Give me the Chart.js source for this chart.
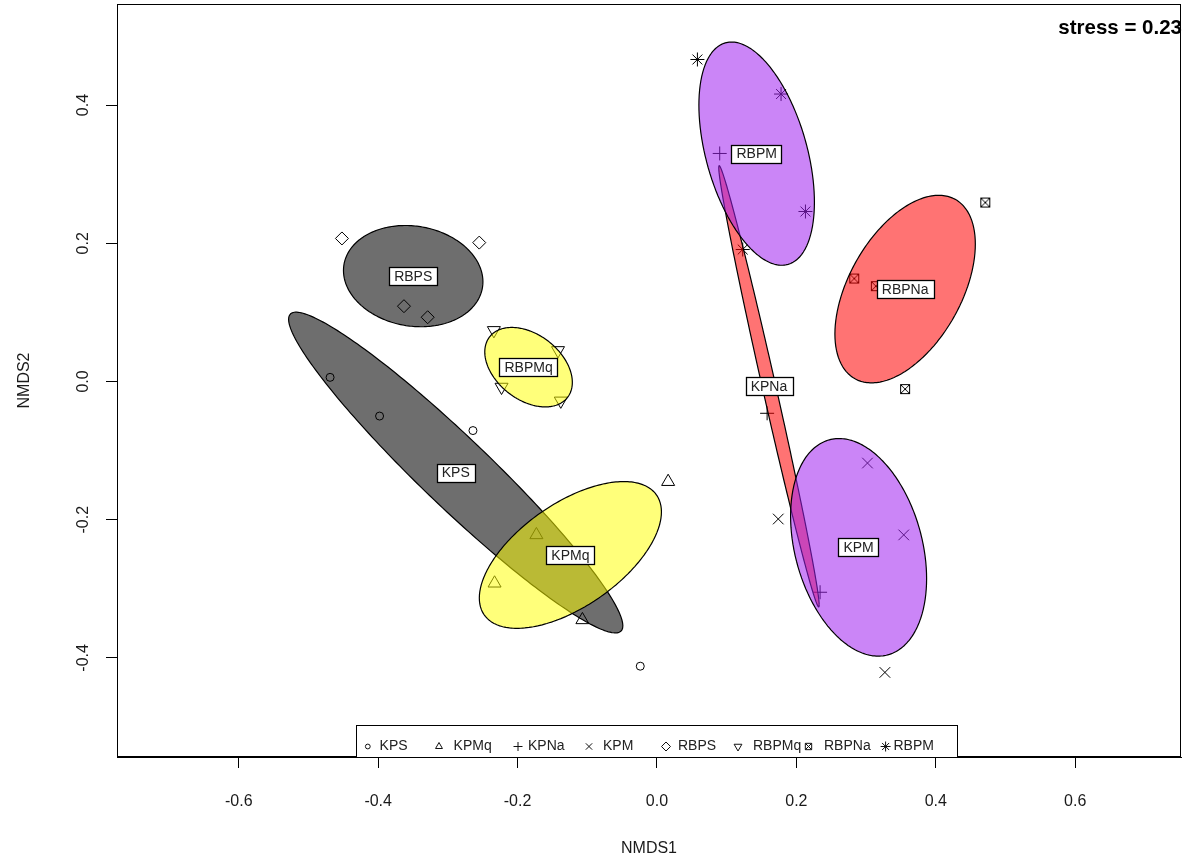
<!DOCTYPE html>
<html>
<head>
<meta charset="utf-8">
<script src="https://cdn.jsdelivr.net/npm/chart.js@4/dist/chart.umd.min.js"></script>
<style>
html,body{margin:0;padding:0;background:#ffffff;}
canvas{display:block;}
</style>
</head>
<body>
<canvas id="c" width="1194" height="867" style="width:1194px;height:867px"></canvas>
<script>
// ---------------- data (NMDS scores) ----------------
const groups = ['KPS', 'KPMq', 'KPNa', 'KPM', 'RBPS', 'RBPMq', 'RBPNa', 'RBPM'];

const KPS_x   = [-0.469, -0.398, -0.264, -0.024];
const KPS_y   = [ 0.006, -0.050, -0.071, -0.412];
const KPMq_x  = [ 0.016, -0.173, -0.233, -0.107];
const KPMq_y  = [-0.145, -0.222, -0.292, -0.345];
const KPNa_x  = [ 0.090,  0.158,  0.234];
const KPNa_y  = [ 0.330, -0.046, -0.305];
const KPM_x   = [ 0.302,  0.354,  0.174,  0.327];
const KPM_y   = [-0.118, -0.222, -0.199, -0.421];
const RBPS_x  = [-0.452, -0.255, -0.363, -0.329];
const RBPS_y  = [ 0.207,  0.201,  0.109,  0.093];
const RBPMq_x = [-0.234, -0.142, -0.223, -0.138];
const RBPMq_y = [ 0.074,  0.045, -0.008, -0.028];
const RBPNa_x = [ 0.471,  0.283,  0.314,  0.356];
const RBPNa_y = [ 0.259,  0.149,  0.138, -0.011];
const RBPM_x  = [ 0.058,  0.178,  0.213,  0.123];
const RBPM_y  = [ 0.466,  0.416,  0.246,  0.191];

// ellipse size factor (centroid confidence ellipse scale) per group
const ellipseScale = [1.224, 1.224, 1.0, 1.224, 1.224, 1.224, 1.224, 1.224];

const xTicks = [-0.6, -0.4, -0.2, 0.0, 0.2, 0.4, 0.6];
const yTicks = [-0.4, -0.2, 0.0, 0.2, 0.4];
const xTitle = 'NMDS1';
const yTitle = 'NMDS2';
const stressText = 'stress = 0.23';

// ---------------- styles ----------------
const groupX = [KPS_x, KPMq_x, KPNa_x, KPM_x, RBPS_x, RBPMq_x, RBPNa_x, RBPM_x];
const groupY = [KPS_y, KPMq_y, KPNa_y, KPM_y, RBPS_y, RBPMq_y, RBPNa_y, RBPM_y];
const fillColors = [
  'rgba(0,0,0,0.57)', 'rgba(255,255,0,0.52)', 'rgba(255,0,0,0.55)', 'rgba(160,32,240,0.55)',
  'rgba(0,0,0,0.57)', 'rgba(255,255,0,0.52)', 'rgba(255,0,0,0.55)', 'rgba(160,32,240,0.55)'
];
const FONT = '"Liberation Sans", Arial, "DejaVu Sans", sans-serif';

// square with a cross (R pch 7)
function boxCross(size) {
  const cv = document.createElement('canvas');
  cv.width = size; cv.height = size;
  const g = cv.getContext('2d');
  g.strokeStyle = '#000'; g.lineWidth = 1;
  g.strokeRect(1.5, 1.5, size - 3, size - 3);
  g.beginPath();
  g.moveTo(1.5, 1.5); g.lineTo(size - 1.5, size - 1.5);
  g.moveTo(size - 1.5, 1.5); g.lineTo(1.5, size - 1.5);
  g.stroke();
  return cv;
}
const pointStyles = ['circle', 'triangle', 'cross', 'crossRot', 'rectRot', 'triangle', boxCross(12), 'star'];
const pointRot    = [0, 0, 0, 0, 0, 180, 0, 0];
const pointRad    = [4, 7.5, 7, 7.5, 6.5, 7.5, 6, 7];

// ---------------- helpers ----------------
const mean = a => a.reduce((s, v) => s + v, 0) / a.length;

function ellipse(xs, ys, scale) {
  const n = xs.length, mx = mean(xs), my = mean(ys);
  let sxx = 0, syy = 0, sxy = 0;
  for (let i = 0; i < n; i++) {
    const dx = xs[i] - mx, dy = ys[i] - my;
    sxx += dx * dx; syy += dy * dy; sxy += dx * dy;
  }
  sxx /= (n - 1); syy /= (n - 1); sxy /= (n - 1);
  const a = Math.sqrt(sxx), b = sxy / a, c = Math.sqrt(Math.max(syy - b * b, 0));
  const pts = [];
  const N = 120;
  for (let k = 0; k <= N; k++) {
    const t = 2 * Math.PI * k / N, u = Math.cos(t), v = Math.sin(t);
    pts.push({x: mx + scale * a * u, y: my + scale * (b * u + c * v)});
  }
  return pts;
}

const datasets = [];
groups.forEach((g, i) => {
  datasets.push({
    label: g,
    data: groupX[i].map((x, j) => ({x: x, y: groupY[i][j]})),
    pointStyle: pointStyles[i],
    pointRotation: pointRot[i],
    pointRadius: pointRad[i],
    pointBorderWidth: 1,
    pointBorderColor: '#000',
    pointBackgroundColor: 'rgba(0,0,0,0)',
    showLine: false,
    order: 100 + i
  });
});
groups.forEach((g, i) => {
  datasets.push({
    label: g + ' ellipse',
    data: ellipse(groupX[i], groupY[i], ellipseScale[i]),
    showLine: true,
    fill: 'shape',
    backgroundColor: fillColors[i],
    borderColor: '#000',
    borderWidth: 1.2,
    pointRadius: 0,
    tension: 0.001,
    order: 50 - i
  });
});

// ---------------- plugins ----------------
function drawSym(ctx, k, x, y, s) {
  ctx.beginPath();
  const d = s * 0.7071;
  switch (k) {
    case 0: ctx.arc(x, y, s, 0, 2 * Math.PI); break;
    case 1: ctx.moveTo(x, y - s); ctx.lineTo(x + 0.866 * s, y + 0.5 * s); ctx.lineTo(x - 0.866 * s, y + 0.5 * s); ctx.closePath(); break;
    case 2: ctx.moveTo(x - s, y); ctx.lineTo(x + s, y); ctx.moveTo(x, y - s); ctx.lineTo(x, y + s); break;
    case 3: ctx.moveTo(x - d, y - d); ctx.lineTo(x + d, y + d); ctx.moveTo(x + d, y - d); ctx.lineTo(x - d, y + d); break;
    case 4: ctx.moveTo(x, y - s); ctx.lineTo(x + s, y); ctx.lineTo(x, y + s); ctx.lineTo(x - s, y); ctx.closePath(); break;
    case 5: ctx.moveTo(x, y + s); ctx.lineTo(x + 0.866 * s, y - 0.5 * s); ctx.lineTo(x - 0.866 * s, y - 0.5 * s); ctx.closePath(); break;
    case 6:
      ctx.rect(x - d, y - d, 2 * d, 2 * d);
      ctx.moveTo(x - d, y - d); ctx.lineTo(x + d, y + d); ctx.moveTo(x + d, y - d); ctx.lineTo(x - d, y + d); break;
    case 7:
      ctx.moveTo(x - s, y); ctx.lineTo(x + s, y); ctx.moveTo(x, y - s); ctx.lineTo(x, y + s);
      ctx.moveTo(x - d, y - d); ctx.lineTo(x + d, y + d); ctx.moveTo(x + d, y - d); ctx.lineTo(x - d, y + d); break;
  }
  ctx.stroke();
}

const legendSymX  = [11.8, 83, 162, 233, 310, 382, 452.5, 529.6];
const legendTextX = [23.6, 97.6, 172, 247, 322, 397, 468, 537.5];
const legendSymR  = [2.4, 4, 4.5, 4.5, 4.5, 4.5, 4.5, 5];

const overlay = {
  id: 'overlay',
  afterDatasetsDraw(chart) {
    const ctx = chart.ctx, ca = chart.chartArea;
    const xs = chart.scales.x, ys = chart.scales.y;
    ctx.save();
    // group labels at centroids
    ctx.font = '14px ' + FONT;
    ctx.textAlign = 'center';
    ctx.textBaseline = 'middle';
    groups.forEach((g, i) => {
      const px = xs.getPixelForValue(mean(groupX[i]));
      const py = ys.getPixelForValue(mean(groupY[i]));
      const w = ctx.measureText(g).width + 10, h = 18;
      ctx.fillStyle = '#fff';
      ctx.fillRect(Math.round(px - w / 2) + 0.5, Math.round(py - h / 2) + 0.5, Math.round(w), h);
      ctx.strokeStyle = '#000'; ctx.lineWidth = 1.3;
      ctx.strokeRect(Math.round(px - w / 2) + 0.5, Math.round(py - h / 2) + 0.5, Math.round(w), h);
      ctx.fillStyle = '#222';
      ctx.fillText(g, px, py + 1);
    });
    // plot frame
    ctx.strokeStyle = '#000'; ctx.lineWidth = 1;
    ctx.strokeRect(ca.left + 0.5, ca.top + 0.5, ca.right - ca.left - 1, ca.bottom - ca.top - 1);
    // legend
    const lx = ca.left + 239, lw = 601, lh = 32, ly = ca.bottom - lh;
    ctx.fillStyle = '#fff';
    ctx.fillRect(lx + 0.5, ly + 0.5, lw, lh);
    ctx.strokeStyle = '#000';
    ctx.strokeRect(lx + 0.5, ly + 0.5, lw, lh);
    ctx.font = '14px ' + FONT;
    ctx.textAlign = 'left';
    ctx.textBaseline = 'middle';
    const cy = ly + 21.5;
    groups.forEach((g, i) => {
      ctx.strokeStyle = '#111'; ctx.lineWidth = 1;
      drawSym(ctx, i, lx + legendSymX[i], cy, legendSymR[i]);
      ctx.fillStyle = '#222';
      ctx.fillText(g, lx + legendTextX[i], cy);
    });
    // stress
    ctx.font = 'bold 20.5px ' + FONT;
    ctx.textAlign = 'right';
    ctx.fillStyle = '#000';
    ctx.fillText(stressText, ca.right + 1, 28);
    ctx.restore();
  }
};

// ---------------- chart ----------------
new Chart(document.getElementById('c'), {
  type: 'scatter',
  data: {datasets: datasets},
  options: {
    responsive: false,
    animation: false,
    events: [],
    layout: {autoPadding: false, padding: {top: 4, right: 13, left: 0, bottom: 0}},
    plugins: {legend: {display: false}, tooltip: {enabled: false}},
    scales: {
      x: {
        type: 'linear', min: -0.7747, max: 0.7518,
        afterBuildTicks: s => { s.ticks = xTicks.map(v => ({value: v})); },
        afterFit: s => { s.height = 110; s.paddingLeft = 0; s.paddingRight = 0; s.paddingTop = 0; s.paddingBottom = 0; },
        grid: {drawOnChartArea: false, drawTicks: true, tickLength: 11, color: '#000', lineWidth: 1},
        border: {display: true, color: '#000'},
        ticks: {color: '#1a1a1a', font: {family: FONT, size: 16}, padding: 24, maxRotation: 0, autoSkip: false,
                callback: v => v.toFixed(1)},
        title: {display: true, text: xTitle, color: '#1a1a1a', font: {family: FONT, size: 16}, padding: {top: 0, bottom: 9}}
      },
      y: {
        type: 'linear', min: -0.5434, max: 0.5463,
        afterBuildTicks: s => { s.ticks = yTicks.map(v => ({value: v})); },
        afterFit: s => { s.width = 117; s.paddingTop = 0; s.paddingBottom = 0; s.paddingLeft = 0; s.paddingRight = 0; },
        grid: {drawOnChartArea: false, drawTicks: true, tickLength: 11, color: '#000', lineWidth: 1},
        border: {display: true, color: '#000'},
        ticks: {color: '#1a1a1a', font: {family: FONT, size: 16}, padding: 9, minRotation: 90, maxRotation: 90,
                crossAlign: 'center', autoSkip: false, callback: v => v.toFixed(1)},
        title: {display: true, text: yTitle, color: '#1a1a1a', font: {family: FONT, size: 16}, padding: {top: 15, bottom: 0}}
      }
    }
  },
  plugins: [overlay]
});
</script>
</body>
</html>
